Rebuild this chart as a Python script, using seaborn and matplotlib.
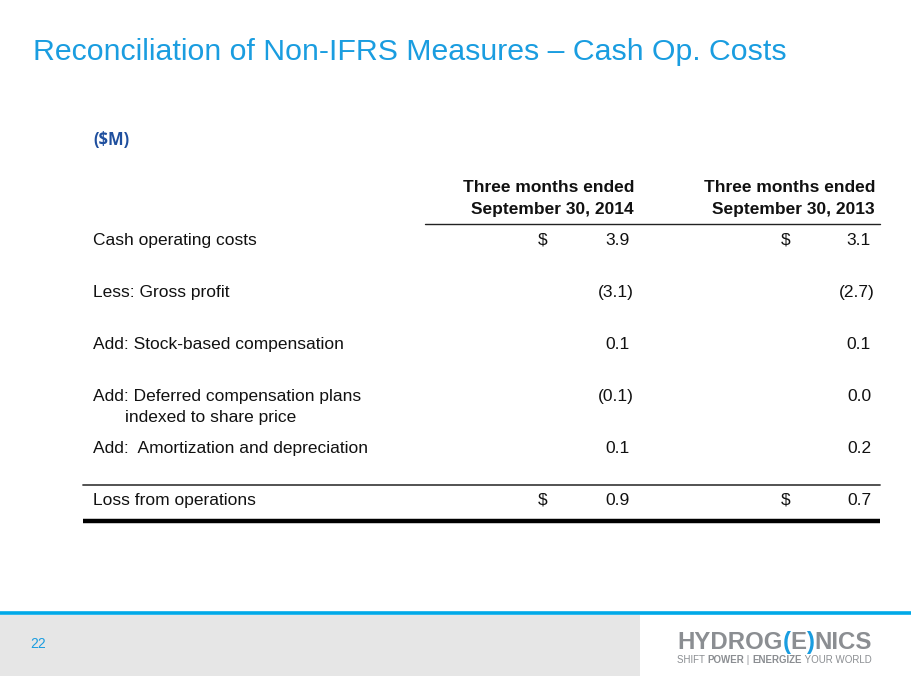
import matplotlib.pyplot as plt
import seaborn as sns

# table content
row_labels = [
    "Cash operating costs",
    "Less: Gross profit",
    "Add: Stock-based compensation",
    "Add: Deferred compensation plans",
    "Add:  Amortization and depreciation",
    "Loss from operations",
]
row_label_extra = ["", "", "", "indexed to share price", "", ""]
col_headers = [["Three months ended", "September 30, 2014"],
               ["Three months ended", "September 30, 2013"]]
q3_2014 = [3.9, -3.1, 0.1, -0.1, 0.1, 0.9]
q3_2013 = [3.1, -2.7, 0.1, 0.0, 0.2, 0.7]
dollar_rows = [True, False, False, False, False, True]

title = "Reconciliation of Non-IFRS Measures \u2013 Cash Op. Costs"
unit_label = "($M)"
page_no = "22"

BLUE = "#1a9de0"
NAVY = "#1f4f9e"
LOGO_GREY = "#8b8e92"
INK = "#111111"


def fmt(v):
    if v < 0:
        return f"({abs(v):.1f})"
    return f"{v:.1f}"


def draw_pieces(ax, fig, x, y, pieces, size, family):
    # draw text pieces one after another on one baseline
    r = fig.canvas.get_renderer()
    inv = ax.transData.inverted()
    for txt, weight, color in pieces:
        t = ax.text(x, y, txt, fontsize=size, fontweight=weight, color=color,
                    family=family, ha="left", va="baseline")
        bb = t.get_window_extent(renderer=r)
        x = inv.transform((bb.x1, bb.y0))[0]


sns.set_theme(style="white")
plt.rcParams['font.family'] = ['Liberation Sans', 'DejaVu Sans']

fig = plt.figure(figsize=(9.11, 6.76), dpi=100)
ax = fig.add_axes([0, 0, 1, 1])
ax.set_xlim(0, 911)
ax.set_ylim(676, 0)
ax.axis("off")

ax.text(33, 60, title, fontsize=21.8, color=BLUE, ha="left", va="baseline")
ax.text(93, 145, unit_label, fontsize=12, color=NAVY, fontweight="bold",
        ha="left", va="baseline", family=["Open Sans", "DejaVu Sans"])

fs = 12.5
col_right = [630, 871]
dollar_x = [543, 786]
for cx, hdr in zip(col_right, col_headers):
    for k, line in enumerate(hdr):
        ax.text(cx + 4, 192 + 22 * k, line, fontsize=fs, fontweight="bold",
                ha="right", va="baseline", color=INK)
ax.plot([425, 880], [224, 224], color="#222222", lw=1.0)

row_base = [245, 297, 349, 401, 453, 505]
for i, (lab, extra) in enumerate(zip(row_labels, row_label_extra)):
    y = row_base[i]
    ax.text(93, y, lab, fontsize=fs, ha="left", va="baseline", color=INK)
    if extra:
        ax.text(125, y + 21, extra, fontsize=fs, ha="left", va="baseline", color=INK)
    for c, vals in enumerate([q3_2014, q3_2013]):
        v = vals[i]
        xr = col_right[c] + (4 if v < 0 else 0)
        ax.text(xr, y, fmt(v), fontsize=fs, ha="right", va="baseline", color=INK)
        if dollar_rows[i]:
            ax.text(dollar_x[c], y, "$", fontsize=fs, ha="center", va="baseline", color=INK)

ax.plot([83, 880], [485, 485], color="#444444", lw=1.3)
ax.plot([83, 880], [521, 521], color="#000000", lw=3.2, solid_capstyle="butt")

# footer
ax.fill_between([0, 640], 615, 676, color="#e6e6e6", lw=0)
ax.plot([0, 911], [613, 613], color="#00a9e8", lw=2.6, solid_capstyle="butt")
ax.text(30, 648, page_no, fontsize=10, color=BLUE, ha="left", va="baseline")

fig.canvas.draw()
narrow = ["Liberation Sans Narrow", "Liberation Sans", "DejaVu Sans"]
draw_pieces(ax, fig, 677, 649,
            [("HYDROG", "bold", LOGO_GREY), ("(", "bold", BLUE), ("E", "bold", LOGO_GREY),
             (")", "bold", BLUE), ("NICS", "bold", LOGO_GREY)], 17.3, narrow)
draw_pieces(ax, fig, 677, 663,
            [("SHIFT ", "normal", LOGO_GREY), ("POWER", "bold", LOGO_GREY),
             (" | ", "normal", LOGO_GREY), ("ENERGIZE", "bold", LOGO_GREY),
             (" YOUR WORLD", "normal", LOGO_GREY)], 7, narrow)

fig.savefig("out.png", dpi=100)
